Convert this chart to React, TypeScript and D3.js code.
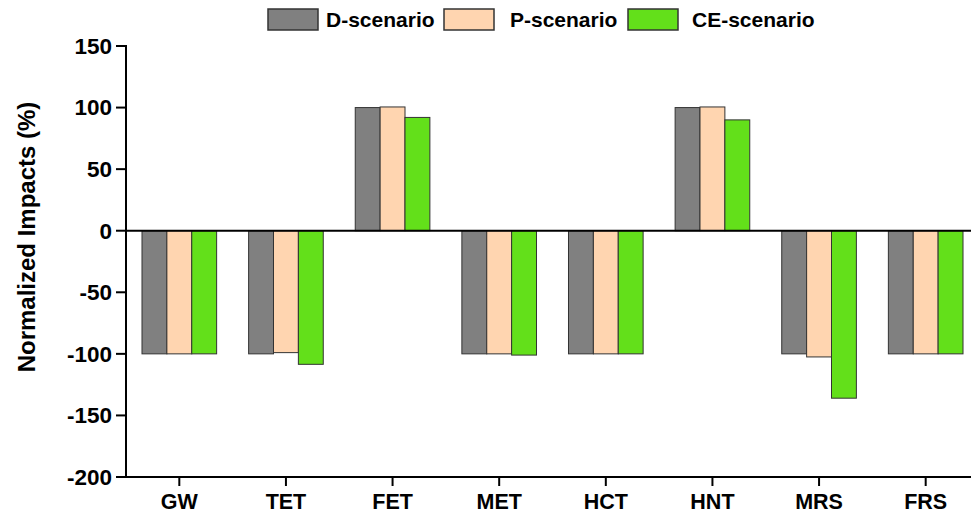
import React from "react";
import * as d3 from "d3";

const categories = ["GW", "TET", "FET", "MET", "HCT", "HNT", "MRS", "FRS"];
const seriesNames = ["D-scenario", "P-scenario", "CE-scenario"];
const dValues = [-100, -100, 100, -100, -100, 100, -100, -100];
const pValues = [-100, -99, 100.5, -100, -100, 100.5, -102.5, -100];
const ceValues = [-100, -108.5, 92, -101, -100, 90, -136, -100];
const yTicks = [150, 100, 50, 0, -50, -100, -150, -200];
const colors = ["#808080", "#FFD5B0", "#63E01A"];

const W = 971;
const H = 516;
const FONT = "'Liberation Sans', Arial, sans-serif";

export default function App() {
  const values = [dValues, pValues, ceValues];
  const x = d3.scaleBand<string>().domain(categories).range([126, 979]).paddingInner(0.3).paddingOuter(0.15);
  const xs = d3.scaleBand<string>().domain(seriesNames).range([0, x.bandwidth()]).padding(0);
  const y = d3.scaleLinear().domain([-200, 150]).range([477, 46]);
  const x0 = 126;

  const legendItems = [
    { box: 268, text: 326 },
    { box: 444, text: 510 },
    { box: 628, text: 692 },
  ];

  return (
    <svg width={W} height={H} style={{ position: "absolute", left: 0, top: 0, background: "#fff" }} fontFamily={FONT}>
      <rect x={0} y={0} width={W} height={H} fill="#fff" />
      {/* bars */}
      {categories.map((c, i) =>
        seriesNames.map((s, j) => {
          const v = values[j][i];
          const yTop = Math.min(y(v), y(0));
          const h = Math.abs(y(v) - y(0));
          return (
            <rect
              key={c + s}
              x={(x(c) as number) + (xs(s) as number)}
              y={yTop}
              width={xs.bandwidth()}
              height={h}
              fill={colors[j]}
              stroke="#333"
              strokeWidth={1}
            />
          );
        })
      )}
      {/* zero line */}
      <line x1={x0} x2={W} y1={y(0)} y2={y(0)} stroke="#000" strokeWidth={2} />
      {/* y axis */}
      <line x1={x0} x2={x0} y1={y(150) - 1} y2={y(-200) + 1} stroke="#000" strokeWidth={2} />
      {yTicks.map((t) => (
        <g key={t}>
          <line x1={x0 - 10} x2={x0} y1={y(t)} y2={y(t)} stroke="#000" strokeWidth={2} />
          <text x={x0 - 14} y={y(t)} dy="0.35em" textAnchor="end" fontSize={22.5} fontWeight="bold" fill="#000">
            {t}
          </text>
        </g>
      ))}
      {/* x axis */}
      <line x1={x0 - 1} x2={W} y1={y(-200)} y2={y(-200)} stroke="#000" strokeWidth={2} />
      {categories.map((c) => {
        const cx = (x(c) as number) + x.bandwidth() / 2;
        return (
          <g key={c}>
            <line x1={cx} x2={cx} y1={y(-200)} y2={y(-200) + 9} stroke="#000" strokeWidth={2} />
            <text x={cx} y={509} textAnchor="middle" fontSize={21.5} fontWeight="bold" fill="#000">
              {c}
            </text>
          </g>
        );
      })}
      {/* y title */}
      <text
        transform={`translate(35, ${237}) rotate(-90)`}
        textAnchor="middle"
        fontSize={24}
        fontWeight="bold"
        fill="#000"
      >
        Normalized Impacts (%)
      </text>
      {/* legend */}
      {seriesNames.map((s, j) => (
        <g key={s}>
          <rect x={legendItems[j].box} y={9} width={50} height={21} fill={colors[j]} stroke="#333" strokeWidth={1.5} />
          <text x={legendItems[j].text} y={27} fontSize={21} fontWeight="bold" fill="#000">
            {s}
          </text>
        </g>
      ))}
    </svg>
  );
}
